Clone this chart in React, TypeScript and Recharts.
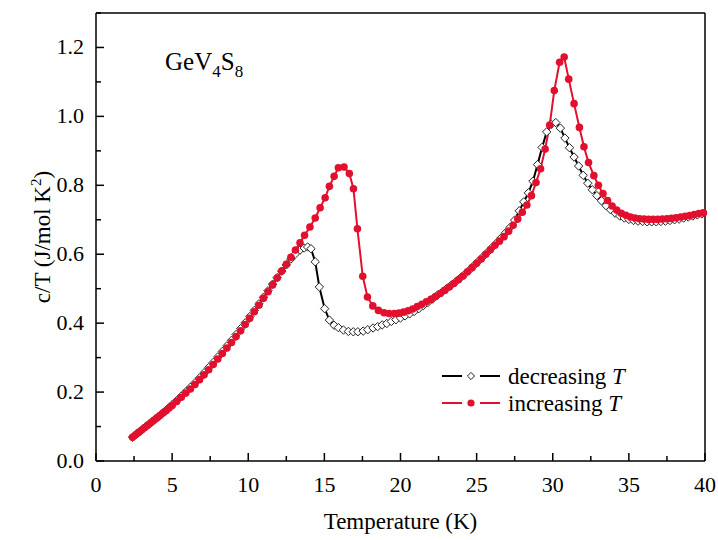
import React from 'react';
import { LineChart, Line, XAxis, YAxis, Legend, Customized } from 'recharts';

// decreasing T (open diamonds, black)
const tempDecreasing = [
  2.4, 2.6, 2.8, 3.0, 3.2, 3.4, 3.6, 3.8, 4.0, 4.2, 4.4, 4.6, 4.8, 5.0, 5.3, 5.6, 5.9, 6.2, 6.5, 6.8,
  7.1, 7.4, 7.7, 8.0, 8.3, 8.6, 8.9, 9.2, 9.5, 9.8, 10.1, 10.4, 10.7, 11.0, 11.3, 11.6, 11.9, 12.2, 12.5, 12.8,
  13.1, 13.4, 13.67, 13.9, 14.12, 14.4, 14.67, 15.02, 15.33, 15.64, 15.92, 16.25, 16.58, 16.9, 17.2, 17.55, 17.85, 18.2, 18.5, 18.8,
  19.1, 19.4, 19.7, 20.0, 20.3, 20.6, 20.9, 21.2, 21.5, 21.8, 22.1, 22.4, 22.7, 23.0, 23.3, 23.6, 23.9, 24.2, 24.5, 24.8,
  25.1, 25.4, 25.7, 26.0, 26.3, 26.6, 26.9, 27.2, 27.5, 27.8, 28.1, 28.4, 28.7, 29.0, 29.3, 29.6, 29.9, 30.2, 30.5, 30.8,
  31.1, 31.4, 31.7, 32.0, 32.3, 32.6, 32.9, 33.2, 33.5, 33.8, 34.1, 34.4, 34.7, 35.0, 35.3, 35.6, 35.9, 36.2, 36.5, 36.8,
  37.1, 37.4, 37.7, 38.0, 38.3, 38.6, 38.9, 39.2, 39.5, 39.8,
];
const cDecreasing = [
  0.069, 0.076, 0.083, 0.090, 0.097, 0.104, 0.111, 0.118, 0.125, 0.132, 0.140, 0.147, 0.155, 0.163, 0.175, 0.188, 0.201, 0.214, 0.227, 0.241,
  0.256, 0.271, 0.286, 0.302, 0.318, 0.334, 0.350, 0.367, 0.384, 0.401, 0.419, 0.437, 0.456, 0.475, 0.494, 0.513, 0.532, 0.551, 0.569, 0.586,
  0.601, 0.612, 0.618, 0.621, 0.616, 0.578, 0.505, 0.442, 0.409, 0.394, 0.387, 0.380, 0.376, 0.375, 0.375, 0.377, 0.381, 0.386, 0.390, 0.395,
  0.399, 0.405, 0.410, 0.415, 0.421, 0.427, 0.434, 0.442, 0.451, 0.460, 0.470, 0.480, 0.489, 0.499, 0.509, 0.519, 0.530, 0.541, 0.553, 0.566,
  0.579, 0.592, 0.605, 0.619, 0.632, 0.647, 0.662, 0.678, 0.699, 0.726, 0.752, 0.778, 0.812, 0.860, 0.910, 0.955, 0.977, 0.982, 0.966, 0.937,
  0.909, 0.882, 0.856, 0.829, 0.806, 0.787, 0.770, 0.755, 0.741, 0.729, 0.719, 0.711, 0.705, 0.701, 0.698, 0.696, 0.695, 0.694, 0.694, 0.694,
  0.695, 0.696, 0.698, 0.700, 0.702, 0.705, 0.708, 0.711, 0.714, 0.717,
];

// increasing T (filled circles, red)
const tempIncreasing = [
  2.4, 2.6, 2.8, 3.0, 3.2, 3.4, 3.6, 3.8, 4.0, 4.2, 4.4, 4.6, 4.8, 5.0, 5.3, 5.6, 5.9, 6.2, 6.5, 6.8,
  7.1, 7.4, 7.7, 8.0, 8.3, 8.6, 8.9, 9.2, 9.5, 9.8, 10.1, 10.4, 10.7, 11.0, 11.3, 11.6, 11.9, 12.2, 12.5, 12.8,
  13.1, 13.4, 13.7, 14.05, 14.4, 14.72, 15.05, 15.33, 15.64, 15.92, 16.29, 16.64, 16.91, 17.17, 17.52, 17.83, 18.18, 18.55, 18.92, 19.25,
  19.6, 19.9, 20.2, 20.5, 20.8, 21.1, 21.4, 21.7, 22.0, 22.3, 22.6, 22.9, 23.2, 23.5, 23.8, 24.1, 24.4, 24.7, 25.0, 25.3,
  25.6, 25.9, 26.2, 26.5, 26.8, 27.1, 27.4, 27.7, 28.0, 28.3, 28.6, 28.9, 29.2, 29.5, 29.8, 30.1, 30.45, 30.75, 31.05, 31.4,
  31.75, 32.05, 32.35, 32.7, 33.0, 33.3, 33.6, 33.9, 34.2, 34.5, 34.8, 35.1, 35.4, 35.7, 36.0, 36.3, 36.6, 36.9, 37.2, 37.5,
  37.8, 38.1, 38.4, 38.7, 39.0, 39.3, 39.6, 39.9,
];
const cIncreasing = [
  0.069, 0.076, 0.083, 0.090, 0.097, 0.104, 0.111, 0.118, 0.125, 0.132, 0.139, 0.146, 0.154, 0.161, 0.173, 0.185, 0.197, 0.209, 0.222, 0.236,
  0.250, 0.265, 0.280, 0.296, 0.312, 0.328, 0.344, 0.361, 0.378, 0.396, 0.414, 0.433, 0.452, 0.472, 0.491, 0.511, 0.531, 0.551, 0.571, 0.591,
  0.612, 0.633, 0.655, 0.679, 0.705, 0.735, 0.764, 0.797, 0.826, 0.851, 0.853, 0.834, 0.790, 0.674, 0.536, 0.476, 0.450, 0.437, 0.430, 0.428,
  0.428, 0.429, 0.432, 0.436, 0.441, 0.448, 0.455, 0.462, 0.469, 0.477, 0.486, 0.495, 0.505, 0.515, 0.526, 0.537, 0.549, 0.561, 0.574, 0.586,
  0.600, 0.613, 0.626, 0.638, 0.651, 0.667, 0.684, 0.702, 0.722, 0.743, 0.770, 0.808, 0.848, 0.905, 0.975, 1.075, 1.157, 1.172, 1.108, 1.037,
  0.968, 0.912, 0.866, 0.828, 0.800, 0.776, 0.756, 0.740, 0.728, 0.719, 0.713, 0.708, 0.705, 0.703, 0.702, 0.701, 0.701, 0.701, 0.702, 0.703,
  0.704, 0.706, 0.708, 0.710, 0.712, 0.715, 0.718, 0.720,
];

const xTicks = [0, 2.5, 5, 7.5, 10, 12.5, 15, 17.5, 20, 22.5, 25, 27.5, 30, 32.5, 35, 37.5, 40];
const yTicks = [0, 0.1, 0.2, 0.3, 0.4, 0.5, 0.6, 0.7, 0.8, 0.9, 1.0, 1.1, 1.2, 1.3];

const decreasingData = tempDecreasing.map((t, i) => ({ T: t, c: cDecreasing[i] }));
const increasingData = tempIncreasing.map((t, i) => ({ T: t, c: cIncreasing[i] }));

const FONT = "'Liberation Serif', 'Times New Roman', serif";
const RED = '#e2102e';

function XTick(props: any) {
  const { x, y, payload, top } = props;
  const v = payload.value;
  const major = v % 5 === 0;
  const len = major ? 8 : 5;
  const dir = top ? 1 : -1;
  return (
    <g>
      <line x1={x} x2={x} y1={y} y2={y + dir * len} stroke="#000" strokeWidth={1.5} />
      {!top && major && (
        <text x={x} y={y + 31} textAnchor="middle" style={{ fontFamily: FONT, fontSize: 22 }} fill="#000">
          {v}
        </text>
      )}
    </g>
  );
}

function YTick(props: any) {
  const { x, y, payload, right } = props;
  const v = payload.value;
  const major = Math.round(v * 10) % 2 === 0;
  const len = major ? 8 : 5;
  const dir = right ? -1 : 1;
  return (
    <g>
      <line x1={x} x2={x + dir * len} y1={y} y2={y} stroke="#000" strokeWidth={1.5} />
      {!right && major && (
        <text x={x - 12} y={y + 7} textAnchor="end" style={{ fontFamily: FONT, fontSize: 22 }} fill="#000">
          {v.toFixed(1)}
        </text>
      )}
    </g>
  );
}

function Diamond(props: any) {
  const { cx, cy, index } = props;
  if (cx == null || cy == null) return <g key={index} />;
  const r = 4.2;
  return (
    <path
      key={index}
      d={`M${cx},${cy - r}L${cx + r},${cy}L${cx},${cy + r}L${cx - r},${cy}Z`}
      fill="#fff"
      stroke="#222"
      strokeWidth={1}
    />
  );
}

function Dot(props: any) {
  const { cx, cy, index } = props;
  if (cx == null || cy == null) return <g key={index} />;
  return <circle key={index} cx={cx} cy={cy} r={3.8} fill={RED} stroke="none" />;
}

function XTitle(props: any) {
  const { viewBox } = props;
  return (
    <text x={viewBox.x + viewBox.width / 2} y={viewBox.y + 68} textAnchor="middle" style={{ fontFamily: FONT, fontSize: 23 }} fill="#000">
      Temperature (K)
    </text>
  );
}

function YTitle(props: any) {
  const { viewBox } = props;
  const cx = 50;
  const cy = viewBox.y + viewBox.height / 2;
  return (
    <text x={cx} y={cy} transform={`rotate(-90 ${cx} ${cy})`} textAnchor="middle" style={{ fontFamily: FONT, fontSize: 23 }} fill="#000">
      c/T (J/mol K
      <tspan style={{ fontSize: 15 }} dy={-9}>2</tspan>
      <tspan dy={9}>)</tspan>
    </text>
  );
}

function Formula() {
  return (
    <text x={165} y={70} style={{ fontFamily: FONT, fontSize: 25 }} fill="#000">
      GeV
      <tspan style={{ fontSize: 17 }} dy={7}>4</tspan>
      <tspan dy={-7}>S</tspan>
      <tspan style={{ fontSize: 17 }} dy={7}>8</tspan>
    </text>
  );
}

function LegendBox() {
  const rows = [
    { label: 'decreasing ', color: '#000', marker: 'diamond' },
    { label: 'increasing ', color: RED, marker: 'circle' },
  ];
  return (
    <svg width={270} height={60} style={{ display: 'block' }}>
      {rows.map((r, i) => {
        const cy = 16 + i * 27;
        return (
          <g key={r.label}>
            <line x1={6} x2={26} y1={cy} y2={cy} stroke={r.color} strokeWidth={2} />
            <line x1={44} x2={64} y1={cy} y2={cy} stroke={r.color} strokeWidth={2} />
            {r.marker === 'diamond' ? (
              <path d={`M35,${cy - 3.6}L38.6,${cy}L35,${cy + 3.6}L31.4,${cy}Z`} fill="#fff" stroke="#222" strokeWidth={1} />
            ) : (
              <circle cx={35} cy={cy} r={3.6} fill={RED} />
            )}
            <text x={72} y={cy + 8} style={{ fontFamily: FONT, fontSize: 23 }} fill="#000">
              {r.label}
              <tspan fontStyle="italic">T</tspan>
            </text>
          </g>
        );
      })}
    </svg>
  );
}

export default function App() {
  return (
    <div style={{ position: 'absolute', left: 0, top: 0, width: 718, height: 540, background: '#fff' }}>
      <LineChart width={718} height={540} margin={{ top: 0, right: 0, bottom: 0, left: 0 }}>
        <XAxis
          xAxisId="bottom"
          dataKey="T"
          type="number"
          domain={[0, 40]}
          ticks={xTicks}
          height={79}
          tickSize={0}
          tickMargin={0}
          tickLine={false}
          axisLine={{ stroke: '#000', strokeWidth: 1.5 }}
          tick={<XTick />}
          interval={0}
          label={<XTitle />}
        />
        <XAxis
          xAxisId="top"
          orientation="top"
          dataKey="T"
          type="number"
          domain={[0, 40]}
          ticks={xTicks}
          height={13}
          tickSize={0}
          tickMargin={0}
          tickLine={false}
          axisLine={{ stroke: '#000', strokeWidth: 1.5 }}
          tick={<XTick top />}
          interval={0}
        />
        <YAxis
          yAxisId="left"
          type="number"
          domain={[0, 1.3]}
          ticks={yTicks}
          width={96}
          tickSize={0}
          tickMargin={0}
          tickLine={false}
          axisLine={{ stroke: '#000', strokeWidth: 1.5 }}
          tick={<YTick />}
          interval={0}
          label={<YTitle />}
        />
        <YAxis
          yAxisId="right"
          orientation="right"
          type="number"
          domain={[0, 1.3]}
          ticks={yTicks}
          width={13}
          tickSize={0}
          tickMargin={0}
          tickLine={false}
          axisLine={{ stroke: '#000', strokeWidth: 1.5 }}
          tick={<YTick right />}
          interval={0}
        />
        <Line
          xAxisId="bottom"
          yAxisId="left"
          data={decreasingData}
          dataKey="c"
          name="decreasing T"
          stroke="#000"
          strokeWidth={2}
          dot={(p: any) => <Diamond {...p} key={p.index} />}
          activeDot={false}
          isAnimationActive={false}
        />
        <Line
          xAxisId="bottom"
          yAxisId="left"
          data={increasingData}
          dataKey="c"
          name="increasing T"
          stroke={RED}
          strokeWidth={2}
          dot={(p: any) => <Dot {...p} key={p.index} />}
          activeDot={false}
          isAnimationActive={false}
        />
        <Legend
          layout="horizontal"
          verticalAlign="middle"
          align="center"
          content={() => <LegendBox />}
          wrapperStyle={{ position: 'absolute', left: 436, top: 360, width: 270, height: 60 }}
        />
        <Customized component={Formula} />
      </LineChart>
    </div>
  );
}
